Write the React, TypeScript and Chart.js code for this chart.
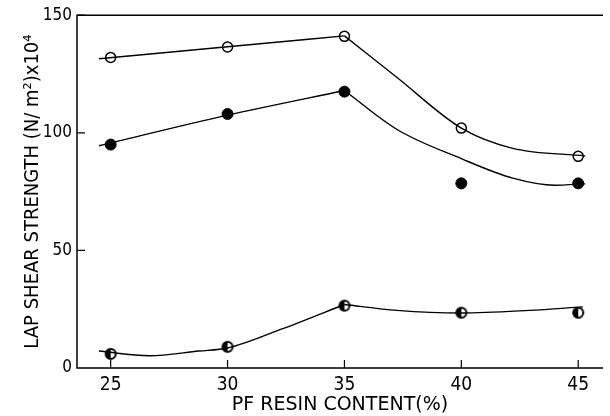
import React, { useEffect, useRef } from "react";
import { Chart, registerables } from "chart.js";

Chart.register(...registerables);

// Measured data points
const resinContent = [25, 30, 35, 40, 45];
const openCircleValues = [132, 136.5, 141, 102, 90];
const filledCircleValues = [95, 108, 117.5, 78.5, 78.5];
const halfCircleValues = [6, 9, 26.5, 23.5, 23.5];

// Fitted curves, rising part and falling part
const openRiseX = [24.5, 30, 35];
const openRiseY = [131.5, 136.6, 141.2];
const openFallX = [35, 37.25, 40, 42.2, 45.3];
const openFallY = [141.2, 123.5, 102, 93.4, 90.2];
const filledRiseX = [24.5, 30, 35];
const filledRiseY = [94.5, 107.5, 118];
const filledFallX = [35, 37.25, 40, 42.2, 44, 45.3];
const filledFallY = [118, 101.4, 89, 80.7, 77.7, 78.3];
const halfRiseX = [24.5, 26.65, 28.77, 30, 32.3, 35];
const halfRiseY = [7.2, 5.2, 7.2, 8.5, 16.5, 27];
const halfFallX = [35, 37.25, 40, 42.9, 45.2];
const halfFallY = [27, 24.5, 23.4, 24.5, 26];

// Axis
const xTickValues = [25, 30, 35, 40, 45];
const yTickValues = [0, 50, 100, 150];
const xMin = 23.56;
const xMax = 46.06;
const yMin = 0;
const yMax = 150;

const FONT = "'Liberation Sans Narrow', 'DejaVu Sans Condensed', 'Liberation Sans', sans-serif";
const TITLE_FONT = "'DejaVu Sans', 'Liberation Sans', sans-serif";

function pairs(xs: number[], ys: number[]) {
  return xs.map((x, i) => ({ x, y: ys[i] }));
}

function makeHalfMarker(): HTMLCanvasElement {
  const c = document.createElement("canvas");
  c.width = 14;
  c.height = 14;
  const ctx = c.getContext("2d")!;
  ctx.beginPath();
  ctx.arc(7, 7, 5, 0, Math.PI * 2);
  ctx.fillStyle = "#fff";
  ctx.fill();
  ctx.beginPath();
  ctx.moveTo(7, 2);
  ctx.arc(7, 7, 5, -Math.PI / 2, Math.PI / 2, true);
  ctx.closePath();
  ctx.fillStyle = "#000";
  ctx.fill();
  ctx.beginPath();
  ctx.arc(7, 7, 5, 0, Math.PI * 2);
  ctx.lineWidth = 2;
  ctx.strokeStyle = "#000";
  ctx.stroke();
  return c;
}

const framePlugin = {
  id: "frame",
  afterDraw(chart: any) {
    const { ctx, chartArea, scales } = chart;
    const { left, right, top, bottom } = chartArea;
    ctx.save();
    ctx.strokeStyle = "#000";
    ctx.lineWidth = 1.5;
    ctx.beginPath();
    ctx.moveTo(right, top);
    ctx.lineTo(left, top);
    ctx.lineTo(left, bottom);
    ctx.lineTo(right, bottom);
    ctx.stroke();
    ctx.lineWidth = 1.2;
    ctx.beginPath();
    yTickValues.forEach((v) => {
      if (v === 0) return;
      const y = scales.y.getPixelForValue(v);
      ctx.moveTo(left, y);
      ctx.lineTo(left + 8, y);
    });
    xTickValues.forEach((v) => {
      const x = scales.x.getPixelForValue(v);
      ctx.moveTo(x, bottom);
      ctx.lineTo(x, bottom - 8);
    });
    ctx.stroke();
    ctx.restore();
  },
};

export default function App() {
  const ref = useRef<HTMLCanvasElement>(null);

  useEffect(() => {
    if (!ref.current) return;
    const half = makeHalfMarker();
    const curveStyle = {
      borderColor: "#000",
      borderWidth: 1.4,
      pointRadius: 0,
      fill: false,
      cubicInterpolationMode: "monotone" as const,
    };
    const chart = new Chart(ref.current, {
      type: "line",
      data: {
        datasets: [
          { label: "open rise", data: pairs(openRiseX, openRiseY), ...curveStyle },
          { label: "open fall", data: pairs(openFallX, openFallY), ...curveStyle },
          { label: "filled rise", data: pairs(filledRiseX, filledRiseY), ...curveStyle },
          { label: "filled fall", data: pairs(filledFallX, filledFallY), ...curveStyle },
          { label: "half rise", data: pairs(halfRiseX, halfRiseY), ...curveStyle },
          { label: "half fall", data: pairs(halfFallX, halfFallY), ...curveStyle },
          {
            label: "open",
            data: pairs(resinContent, openCircleValues),
            showLine: false,
            pointStyle: "circle",
            pointRadius: 5,
            pointBackgroundColor: "#fff",
            pointBorderColor: "#000",
            pointBorderWidth: 1.5,
          },
          {
            label: "filled",
            data: pairs(resinContent, filledCircleValues),
            showLine: false,
            pointStyle: "circle",
            pointRadius: 5.5,
            pointBackgroundColor: "#000",
            pointBorderColor: "#000",
            pointBorderWidth: 1,
          },
          {
            label: "half",
            data: pairs(resinContent, halfCircleValues),
            showLine: false,
            pointStyle: half as any,
            pointRadius: 6,
            pointBackgroundColor: "#000",
            pointBorderColor: "#000",
          },
        ],
      },
      options: {
        responsive: false,
        animation: false,
        layout: { padding: { top: 13, right: 2, left: 0, bottom: 0 } },
        plugins: {
          legend: { display: false },
          tooltip: { enabled: false },
        },
        scales: {
          x: {
            type: "linear",
            min: xMin,
            max: xMax,
            grid: { display: false, drawTicks: false },
            border: { display: false },
            afterBuildTicks: (s: any) => {
              s.ticks = xTickValues.map((v) => ({ value: v }));
            },
            afterFit: (s: any) => {
              s.height = 48;
            },
            ticks: {
              color: "#000",
              padding: 6,
              font: { family: FONT, size: 19 },
              maxRotation: 0,
            },
            title: {
              display: true,
              text: "PF RESIN CONTENT(%)",
              color: "#000",
              font: { family: TITLE_FONT, size: 19 },
              padding: { top: 0, bottom: 0 },
            },
          },
          y: {
            type: "linear",
            min: yMin,
            max: yMax,
            grid: { display: false, drawTicks: false },
            border: { display: false },
            afterBuildTicks: (s: any) => {
              s.ticks = yTickValues.map((v) => ({ value: v }));
            },
            afterFit: (s: any) => {
              s.width = 77;
            },
            ticks: {
              color: "#000",
              padding: 5,
              font: { family: FONT, size: 17 },
            },
            title: {
              display: true,
              text: "LAP SHEAR STRENGTH (N/ m²)x10⁴",
              color: "#000",
              font: { family: FONT, size: 20 },
              padding: { top: 21, bottom: 0 },
            },
          },
        },
      },
      plugins: [framePlugin],
    });
    return () => chart.destroy();
  }, []);

  return (
    <div style={{ position: "fixed", left: 0, top: 0, width: 610, height: 416, background: "#fff" }}>
      <canvas ref={ref} width={610} height={416} />
    </div>
  );
}
